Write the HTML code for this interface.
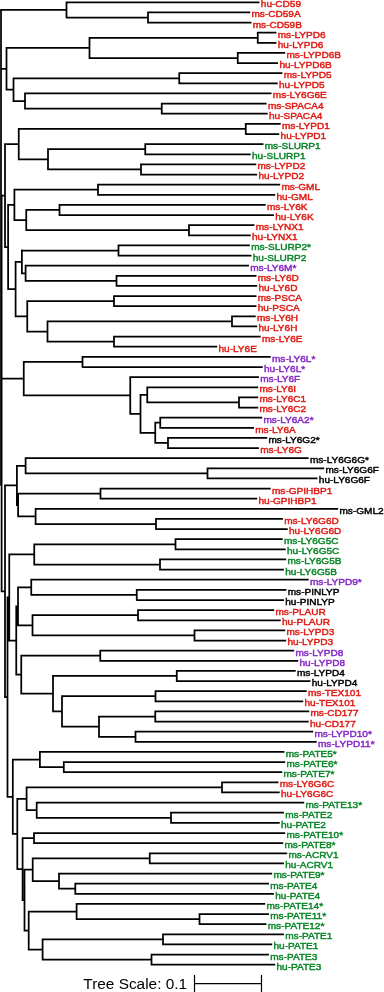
<!DOCTYPE html><html><head><meta charset="utf-8"><style>html,body{margin:0;padding:0;background:#fff;width:384px;height:992px;overflow:hidden}svg{display:block;will-change:transform}text{font-family:"Liberation Sans",sans-serif}</style></head><body>
<svg width="384" height="992" viewBox="0 0 384 992">
<rect width="384" height="992" fill="#fff"/>
<path d="M66.50 2.30H259.50M148.00 12.43H250.20M148.00 22.56H251.45M148.00 11.56V23.44M66.50 17.50H148.00M66.50 1.42V18.37M1.00 9.90H66.50M257.75 32.69H276.45M257.75 42.82H276.45M257.75 31.82V43.70M89.50 37.76H257.75M237.75 52.95H285.20M237.75 63.08H278.10M237.75 52.08V63.96M89.50 58.02H237.75M89.50 36.88V58.89M6.50 47.89H89.50M179.25 73.21H282.40M179.25 83.34H277.70M179.25 72.34V84.22M13.50 78.28H179.25M25.00 93.47H271.50M161.75 103.60H266.60M161.75 113.74H267.70M161.75 102.73V114.61M25.00 108.67H161.75M25.00 92.60V109.55M13.50 101.07H25.00M13.50 77.40V101.95M6.50 89.68H13.50M6.50 47.01V90.55M1.00 68.78H6.50M245.75 123.87H280.70M245.75 134.00H279.30M245.75 122.99V134.87M18.75 128.93H245.75M145.25 144.13H263.45M145.25 154.26H250.70M145.25 143.25V155.13M48.00 149.19H145.25M141.00 164.39H256.20M141.00 174.52H257.20M141.00 163.51V175.39M48.00 169.45H141.00M48.00 148.32V170.33M18.75 159.32H48.00M18.75 128.06V160.20M5.00 144.13H18.75M98.00 184.65H280.20M98.00 194.78H275.20M98.00 183.77V195.65M14.40 189.71H98.00M59.50 204.91H265.70M59.50 215.04H273.95M59.50 204.03V215.92M26.25 209.98H59.50M189.00 225.17H254.45M189.00 235.30H250.70M189.00 224.30V236.18M26.25 230.24H189.00M26.25 209.10V231.11M14.40 220.11H26.25M14.40 188.84V220.98M8.10 204.91H14.40M118.50 245.43H249.90M118.50 255.56H251.45M118.50 244.56V256.44M21.90 250.50H118.50M25.60 265.69H248.95M116.50 275.82H256.45M116.50 285.95H257.20M116.50 274.95V286.83M25.60 280.89H116.50M25.60 264.82V281.76M21.90 273.29H25.60M21.90 249.62V274.17M15.60 261.89H21.90M114.00 296.08H256.45M114.00 306.21H256.45M114.00 295.21V307.09M27.25 301.15H114.00M232.00 316.35H255.70M232.00 326.48H257.20M232.00 315.47V327.35M47.50 321.41H232.00M114.00 336.61H260.70M114.00 346.74H217.20M114.00 335.73V347.61M47.50 341.67H114.00M47.50 320.54V342.55M27.25 331.54H47.50M27.25 300.27V332.42M15.60 316.35H27.25M15.60 261.02V317.22M8.10 289.12H15.60M8.10 204.03V289.99M5.00 247.01H8.10M5.00 143.25V247.89M1.00 195.57H5.00M82.50 356.87H270.70M82.50 367.00H262.70M82.50 355.99V367.87M23.75 361.93H82.50M130.25 377.13H258.95M147.25 387.26H258.20M239.00 397.39H258.20M239.00 407.52H258.20M239.00 396.51V408.39M147.25 402.45H239.00M147.25 386.38V403.33M140.50 394.86H147.25M160.25 417.65H262.20M160.25 427.78H253.95M160.25 416.78V428.66M155.25 422.72H160.25M168.00 437.91H267.20M168.00 448.04H258.95M168.00 437.04V448.92M155.25 442.98H168.00M155.25 421.84V443.85M140.50 432.85H155.25M140.50 393.98V433.72M130.25 413.85H140.50M130.25 376.25V414.73M23.75 395.49H130.25M23.75 361.06V396.37M1.00 378.71H23.75M25.60 458.17H308.60M207.50 468.30H324.20M207.50 478.43H317.50M207.50 467.43V479.31M25.60 473.37H207.50M25.60 457.30V474.24M16.90 465.77H25.60M100.50 488.56H270.70M100.50 498.69H257.20M100.50 487.69V499.57M18.10 493.63H100.50M35.60 508.82H338.20M156.00 518.96H282.90M156.00 529.09H287.70M156.00 518.08V529.96M35.60 524.02H156.00M35.60 507.95V524.90M18.10 516.42H35.60M18.10 492.75V517.30M16.90 505.03H18.10M16.90 464.90V505.90M5.00 485.40H16.90M175.50 539.22H282.70M175.50 549.35H285.70M175.50 538.34V550.22M34.25 544.28H175.50M160.00 559.48H286.20M160.00 569.61H283.95M160.00 558.60V570.48M34.25 564.54H160.00M34.25 543.41V565.42M9.25 554.41H34.25M31.25 579.74H308.70M136.75 589.87H286.45M136.75 600.00H283.95M136.75 588.99V600.87M31.25 594.93H136.75M31.25 578.86V595.81M18.00 587.34H31.25M138.00 610.13H274.20M138.00 620.26H280.70M138.00 609.25V621.14M32.50 615.20H138.00M194.50 630.39H285.20M194.50 640.52H286.20M194.50 629.52V641.40M32.50 635.46H194.50M32.50 614.32V636.33M18.00 625.33H32.50M18.00 586.46V626.20M16.25 606.33H18.00M100.25 650.65H294.20M100.25 660.78H298.20M100.25 649.78V661.66M21.25 655.72H100.25M176.75 670.91H295.70M176.75 681.04H310.45M176.75 670.04V681.92M53.00 675.98H176.75M155.50 691.17H306.70M155.50 701.30H303.20M155.50 690.30V702.18M62.00 696.24H155.50M155.25 711.43H309.20M155.25 721.57H308.70M155.25 710.56V722.44M99.00 716.50H155.25M135.50 731.70H313.20M135.50 741.83H316.70M135.50 730.82V742.70M99.00 736.76H135.50M99.00 715.63V737.64M62.00 726.63H99.00M62.00 695.36V727.51M53.00 711.43H62.00M53.00 675.10V712.31M21.25 693.71H53.00M21.25 654.84V694.58M16.25 674.71H21.25M16.25 605.46V675.59M9.25 640.52H16.25M9.25 553.54V641.40M7.50 597.47H9.25M39.90 751.96H284.45M63.80 762.09H285.20M63.80 772.22H282.20M63.80 761.21V773.09M39.90 767.15H63.80M39.90 751.08V768.03M12.80 759.55H39.90M222.00 782.35H278.45M222.00 792.48H279.70M222.00 781.47V793.35M26.60 787.41H222.00M36.70 802.61H304.20M171.00 812.74H283.95M171.00 822.87H279.70M171.00 811.86V823.75M36.70 817.81H171.00M36.70 801.73V818.68M26.60 810.21H36.70M26.60 786.54V811.08M17.30 798.81H26.60M34.00 833.00H285.20M34.00 843.13H283.20M34.00 832.13V844.01M22.60 838.07H34.00M149.75 853.26H287.20M149.75 863.39H283.95M149.75 852.39V864.27M32.70 858.33H149.75M59.00 873.52H272.20M75.30 883.65H268.95M75.30 893.78H273.95M75.30 882.78V894.66M59.00 888.72H75.30M59.00 872.65V889.59M32.70 881.12H59.00M32.70 857.45V882.00M24.50 869.72H32.70M76.60 903.91H265.20M199.50 914.04H268.95M199.50 924.18H266.45M199.50 913.17V925.05M76.60 919.11H199.50M76.60 903.04V919.99M28.70 911.51H76.60M163.00 934.31H283.95M163.00 944.44H272.20M163.00 933.43V945.31M42.60 939.37H163.00M151.50 954.57H268.95M151.50 964.70H275.20M151.50 953.69V965.57M42.60 959.63H151.50M42.60 938.50V960.51M28.70 949.50H42.60M28.70 910.64V950.38M24.50 930.51H28.70M24.50 868.85V931.38M22.60 900.12H24.50M22.60 837.19V900.99M17.30 869.09H22.60M17.30 797.94V869.97M12.80 833.95H17.30M12.80 758.68V834.83M7.50 796.75H12.80M7.50 596.59V797.63M5.00 697.11H7.50M5.00 484.52V697.98M1.60 591.25H5.00M1.00 9.02V485.86M1.60 194.70V592.13" stroke="#000" stroke-width="1.75" fill="none"/>
<g font-size="9.50" stroke-width="0.45">
<text transform="translate(260.80 7.25) scale(1.060 1)" fill="#e01b14" stroke="#e01b14">hu-CD59</text>
<text transform="translate(251.50 17.38) scale(1.060 1)" fill="#e01b14" stroke="#e01b14">ms-CD59A</text>
<text transform="translate(252.75 27.51) scale(1.060 1)" fill="#e01b14" stroke="#e01b14">ms-CD59B</text>
<text transform="translate(277.75 37.64) scale(1.060 1)" fill="#e01b14" stroke="#e01b14">ms-LYPD6</text>
<text transform="translate(277.75 47.77) scale(1.060 1)" fill="#e01b14" stroke="#e01b14">hu-LYPD6</text>
<text transform="translate(286.50 57.90) scale(1.060 1)" fill="#e01b14" stroke="#e01b14">ms-LYPD6B</text>
<text transform="translate(279.40 68.03) scale(1.060 1)" fill="#e01b14" stroke="#e01b14">hu-LYPD6B</text>
<text transform="translate(283.70 78.16) scale(1.060 1)" fill="#e01b14" stroke="#e01b14">ms-LYPD5</text>
<text transform="translate(279.00 88.29) scale(1.060 1)" fill="#e01b14" stroke="#e01b14">hu-LYPD5</text>
<text transform="translate(272.80 98.42) scale(1.060 1)" fill="#e01b14" stroke="#e01b14">ms-LY6G6E</text>
<text transform="translate(267.90 108.55) scale(1.060 1)" fill="#e01b14" stroke="#e01b14">ms-SPACA4</text>
<text transform="translate(269.00 118.69) scale(1.060 1)" fill="#e01b14" stroke="#e01b14">hu-SPACA4</text>
<text transform="translate(282.00 128.82) scale(1.060 1)" fill="#e01b14" stroke="#e01b14">ms-LYPD1</text>
<text transform="translate(280.60 138.95) scale(1.060 1)" fill="#e01b14" stroke="#e01b14">hu-LYPD1</text>
<text transform="translate(264.75 149.08) scale(1.060 1)" fill="#0b8629" stroke="#0b8629">ms-SLURP1</text>
<text transform="translate(252.00 159.21) scale(1.060 1)" fill="#0b8629" stroke="#0b8629">hu-SLURP1</text>
<text transform="translate(257.50 169.34) scale(1.060 1)" fill="#e01b14" stroke="#e01b14">ms-LYPD2</text>
<text transform="translate(258.50 179.47) scale(1.060 1)" fill="#e01b14" stroke="#e01b14">hu-LYPD2</text>
<text transform="translate(281.50 189.60) scale(1.060 1)" fill="#e01b14" stroke="#e01b14">ms-GML</text>
<text transform="translate(276.50 199.73) scale(1.060 1)" fill="#e01b14" stroke="#e01b14">hu-GML</text>
<text transform="translate(267.00 209.86) scale(1.060 1)" fill="#e01b14" stroke="#e01b14">ms-LY6K</text>
<text transform="translate(275.25 219.99) scale(1.060 1)" fill="#e01b14" stroke="#e01b14">hu-LY6K</text>
<text transform="translate(255.75 230.12) scale(1.060 1)" fill="#e01b14" stroke="#e01b14">ms-LYNX1</text>
<text transform="translate(252.00 240.25) scale(1.060 1)" fill="#e01b14" stroke="#e01b14">hu-LYNX1</text>
<text transform="translate(251.20 250.38) scale(1.060 1)" fill="#0b8629" stroke="#0b8629">ms-SLURP2*</text>
<text transform="translate(252.75 260.51) scale(1.060 1)" fill="#0b8629" stroke="#0b8629">hu-SLURP2</text>
<text transform="translate(250.25 270.64) scale(1.060 1)" fill="#8628c6" stroke="#8628c6">ms-LY6M*</text>
<text transform="translate(257.75 280.77) scale(1.060 1)" fill="#e01b14" stroke="#e01b14">ms-LY6D</text>
<text transform="translate(258.50 290.90) scale(1.060 1)" fill="#e01b14" stroke="#e01b14">hu-LY6D</text>
<text transform="translate(257.75 301.03) scale(1.060 1)" fill="#e01b14" stroke="#e01b14">ms-PSCA</text>
<text transform="translate(257.75 311.16) scale(1.060 1)" fill="#e01b14" stroke="#e01b14">hu-PSCA</text>
<text transform="translate(257.00 321.30) scale(1.060 1)" fill="#e01b14" stroke="#e01b14">ms-LY6H</text>
<text transform="translate(258.50 331.43) scale(1.060 1)" fill="#e01b14" stroke="#e01b14">hu-LY6H</text>
<text transform="translate(262.00 341.56) scale(1.060 1)" fill="#e01b14" stroke="#e01b14">ms-LY6E</text>
<text transform="translate(218.50 351.69) scale(1.060 1)" fill="#e01b14" stroke="#e01b14">hu-LY6E</text>
<text transform="translate(272.00 361.82) scale(1.060 1)" fill="#8628c6" stroke="#8628c6">ms-LY6L*</text>
<text transform="translate(264.00 371.95) scale(1.060 1)" fill="#8628c6" stroke="#8628c6">hu-LY6L*</text>
<text transform="translate(260.25 382.08) scale(1.060 1)" fill="#8628c6" stroke="#8628c6">ms-LY6F</text>
<text transform="translate(259.50 392.21) scale(1.060 1)" fill="#e01b14" stroke="#e01b14">ms-LY6I</text>
<text transform="translate(259.50 402.34) scale(1.060 1)" fill="#e01b14" stroke="#e01b14">ms-LY6C1</text>
<text transform="translate(259.50 412.47) scale(1.060 1)" fill="#e01b14" stroke="#e01b14">ms-LY6C2</text>
<text transform="translate(263.50 422.60) scale(1.060 1)" fill="#8628c6" stroke="#8628c6">ms-LY6A2*</text>
<text transform="translate(255.25 432.73) scale(1.060 1)" fill="#e01b14" stroke="#e01b14">ms-LY6A</text>
<text transform="translate(268.50 442.86) scale(1.060 1)" fill="#000000" stroke="#000000">ms-LY6G2*</text>
<text transform="translate(260.25 452.99) scale(1.060 1)" fill="#e01b14" stroke="#e01b14">ms-LY6G</text>
<text transform="translate(309.90 463.12) scale(1.060 1)" fill="#000000" stroke="#000000">ms-LY6G6G*</text>
<text transform="translate(325.50 473.25) scale(1.060 1)" fill="#000000" stroke="#000000">ms-LY6G6F</text>
<text transform="translate(318.80 483.38) scale(1.060 1)" fill="#000000" stroke="#000000">hu-LY6G6F</text>
<text transform="translate(272.00 493.51) scale(1.060 1)" fill="#e01b14" stroke="#e01b14">ms-GPIHBP1</text>
<text transform="translate(258.50 503.64) scale(1.060 1)" fill="#e01b14" stroke="#e01b14">hu-GPIHBP1</text>
<text transform="translate(339.50 513.77) scale(1.060 1)" fill="#000000" stroke="#000000">ms-GML2</text>
<text transform="translate(284.20 523.91) scale(1.060 1)" fill="#e01b14" stroke="#e01b14">ms-LY6G6D</text>
<text transform="translate(289.00 534.04) scale(1.060 1)" fill="#e01b14" stroke="#e01b14">hu-LY6G6D</text>
<text transform="translate(284.00 544.17) scale(1.060 1)" fill="#0b8629" stroke="#0b8629">ms-LY6G5C</text>
<text transform="translate(287.00 554.30) scale(1.060 1)" fill="#0b8629" stroke="#0b8629">hu-LY6G5C</text>
<text transform="translate(287.50 564.43) scale(1.060 1)" fill="#0b8629" stroke="#0b8629">ms-LY6G5B</text>
<text transform="translate(285.25 574.56) scale(1.060 1)" fill="#0b8629" stroke="#0b8629">hu-LY6G5B</text>
<text transform="translate(310.00 584.69) scale(1.060 1)" fill="#8628c6" stroke="#8628c6">ms-LYPD9*</text>
<text transform="translate(287.75 594.82) scale(1.060 1)" fill="#000000" stroke="#000000">ms-PINLYP</text>
<text transform="translate(285.25 604.95) scale(1.060 1)" fill="#000000" stroke="#000000">hu-PINLYP</text>
<text transform="translate(275.50 615.08) scale(1.060 1)" fill="#e01b14" stroke="#e01b14">ms-PLAUR</text>
<text transform="translate(282.00 625.21) scale(1.060 1)" fill="#e01b14" stroke="#e01b14">hu-PLAUR</text>
<text transform="translate(286.50 635.34) scale(1.060 1)" fill="#e01b14" stroke="#e01b14">ms-LYPD3</text>
<text transform="translate(287.50 645.47) scale(1.060 1)" fill="#e01b14" stroke="#e01b14">hu-LYPD3</text>
<text transform="translate(295.50 655.60) scale(1.060 1)" fill="#8628c6" stroke="#8628c6">ms-LYPD8</text>
<text transform="translate(299.50 665.73) scale(1.060 1)" fill="#8628c6" stroke="#8628c6">hu-LYPD8</text>
<text transform="translate(297.00 675.86) scale(1.060 1)" fill="#000000" stroke="#000000">ms-LYPD4</text>
<text transform="translate(311.75 685.99) scale(1.060 1)" fill="#000000" stroke="#000000">hu-LYPD4</text>
<text transform="translate(308.00 696.12) scale(1.060 1)" fill="#e01b14" stroke="#e01b14">ms-TEX101</text>
<text transform="translate(304.50 706.25) scale(1.060 1)" fill="#e01b14" stroke="#e01b14">hu-TEX101</text>
<text transform="translate(310.50 716.38) scale(1.060 1)" fill="#e01b14" stroke="#e01b14">ms-CD177</text>
<text transform="translate(310.00 726.52) scale(1.060 1)" fill="#e01b14" stroke="#e01b14">hu-CD177</text>
<text transform="translate(314.50 736.65) scale(1.060 1)" fill="#8628c6" stroke="#8628c6">ms-LYPD10*</text>
<text transform="translate(318.00 746.78) scale(1.060 1)" fill="#8628c6" stroke="#8628c6">ms-LYPD11*</text>
<text transform="translate(285.75 756.91) scale(1.060 1)" fill="#0b8629" stroke="#0b8629">ms-PATE5*</text>
<text transform="translate(286.50 767.04) scale(1.060 1)" fill="#0b8629" stroke="#0b8629">ms-PATE6*</text>
<text transform="translate(283.50 777.17) scale(1.060 1)" fill="#0b8629" stroke="#0b8629">ms-PATE7*</text>
<text transform="translate(279.75 787.30) scale(1.060 1)" fill="#e01b14" stroke="#e01b14">ms-LY6G6C</text>
<text transform="translate(281.00 797.43) scale(1.060 1)" fill="#e01b14" stroke="#e01b14">hu-LY6G6C</text>
<text transform="translate(305.50 807.56) scale(1.060 1)" fill="#0b8629" stroke="#0b8629">ms-PATE13*</text>
<text transform="translate(285.25 817.69) scale(1.060 1)" fill="#0b8629" stroke="#0b8629">ms-PATE2</text>
<text transform="translate(281.00 827.82) scale(1.060 1)" fill="#0b8629" stroke="#0b8629">hu-PATE2</text>
<text transform="translate(286.50 837.95) scale(1.060 1)" fill="#0b8629" stroke="#0b8629">ms-PATE10*</text>
<text transform="translate(284.50 848.08) scale(1.060 1)" fill="#0b8629" stroke="#0b8629">ms-PATE8*</text>
<text transform="translate(288.50 858.21) scale(1.060 1)" fill="#0b8629" stroke="#0b8629">ms-ACRV1</text>
<text transform="translate(285.25 868.34) scale(1.060 1)" fill="#0b8629" stroke="#0b8629">hu-ACRV1</text>
<text transform="translate(273.50 878.47) scale(1.060 1)" fill="#0b8629" stroke="#0b8629">ms-PATE9*</text>
<text transform="translate(270.25 888.60) scale(1.060 1)" fill="#0b8629" stroke="#0b8629">ms-PATE4</text>
<text transform="translate(275.25 898.73) scale(1.060 1)" fill="#0b8629" stroke="#0b8629">hu-PATE4</text>
<text transform="translate(266.50 908.86) scale(1.060 1)" fill="#0b8629" stroke="#0b8629">ms-PATE14*</text>
<text transform="translate(270.25 919.00) scale(1.060 1)" fill="#0b8629" stroke="#0b8629">ms-PATE11*</text>
<text transform="translate(267.75 929.13) scale(1.060 1)" fill="#0b8629" stroke="#0b8629">ms-PATE12*</text>
<text transform="translate(285.25 939.26) scale(1.060 1)" fill="#0b8629" stroke="#0b8629">ms-PATE1</text>
<text transform="translate(273.50 949.39) scale(1.060 1)" fill="#0b8629" stroke="#0b8629">hu-PATE1</text>
<text transform="translate(270.25 959.52) scale(1.060 1)" fill="#0b8629" stroke="#0b8629">ms-PATE3</text>
<text transform="translate(276.50 969.65) scale(1.060 1)" fill="#0b8629" stroke="#0b8629">hu-PATE3</text>
</g>
<text x="83.3" y="988.7" font-size="15.4" fill="#000">Tree Scale: 0.1</text>
<path d="M194.5 975V992M261.5 975V992M194.5 983.6H261.5" stroke="#000" stroke-width="1.2" fill="none"/>
</svg></body></html>
